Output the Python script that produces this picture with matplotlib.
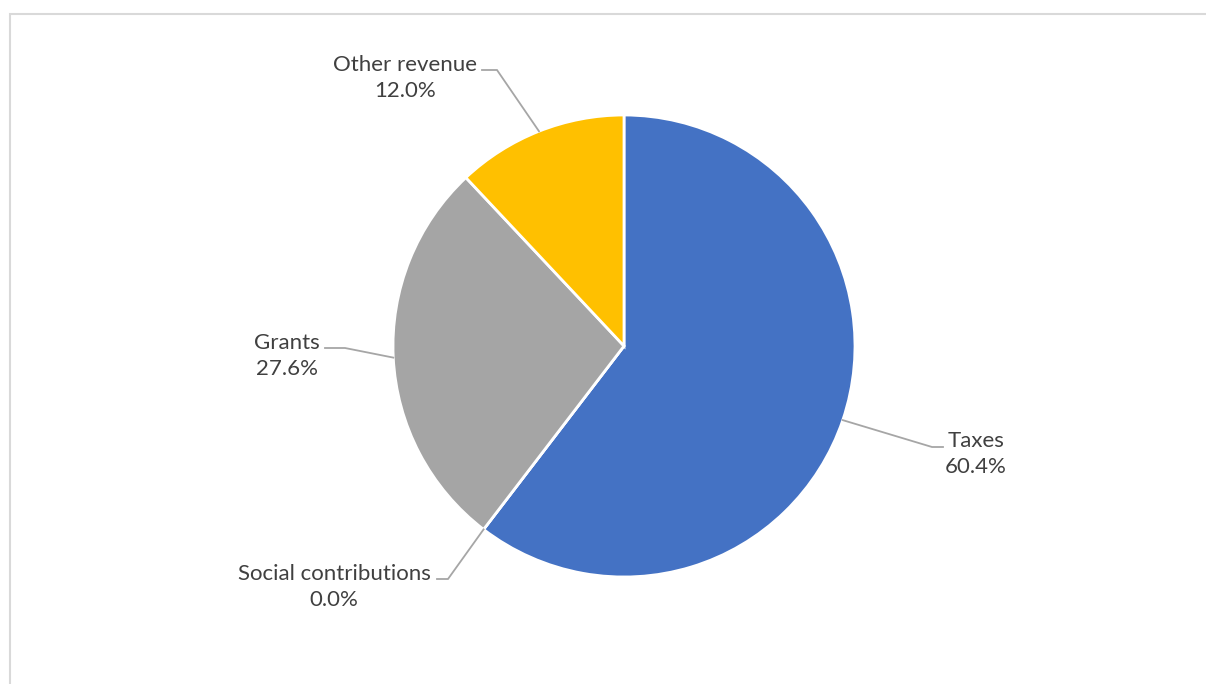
import numpy as np
import matplotlib.pyplot as plt
from matplotlib.patches import Rectangle

# revenue shares (%), drawn clockwise from 12 o'clock
categories = ["Taxes", "Social contributions", "Grants", "Other revenue"]
shares = [60.4, 0.0, 27.6, 12.0]
colors = ["#4472C4", "#ED7D31", "#A5A5A5", "#FFC000"]

# label layout in pixel space (y measured from the top of the image)
label_pos = {
    "Taxes": (976, 454),
    "Social contributions": (334, 587),
    "Grants": (287, 356),
    "Other revenue": (405, 78),
}
# elbow of each leader line and the end of its short horizontal run
elbows = {
    "Taxes": ((932, 447), (943, 447)),
    "Social contributions": ((448, 579), (437, 579)),
    "Grants": ((345, 348), (325, 348)),
    "Other revenue": ((497, 70), (482, 70)),
}

W, H = 1206, 684
cx, cy, r = 624, 346, 231

plt.rcParams["font.family"] = ["Lato", "DejaVu Sans"]

fig = plt.figure(figsize=(W / 100, H / 100), dpi=100)
ax = fig.add_axes([0, 0, 1, 1])

wedges, _ = ax.pie(
    shares,
    colors=colors,
    startangle=90,
    counterclock=False,
    center=(cx, H - cy),
    radius=r,
    wedgeprops=dict(edgecolor="white", linewidth=2),
)
ax.set_xlim(0, W)
ax.set_ylim(0, H)
ax.set_aspect("equal")
ax.axis("off")

# chart frame
fig.patches.append(Rectangle((9.5, -20), W + 20, H - 13.5 + 20, transform=None,
                             fill=False, edgecolor="#D9D9D9", linewidth=1.5))

for w, name, val in zip(wedges, categories, shares):
    mid = np.deg2rad((w.theta1 + w.theta2) / 2)
    ex, ey = cx + r * np.cos(mid), H - cy + r * np.sin(mid)
    (bx, by), (hx, hy) = elbows[name]
    ax.plot([ex, bx, hx], [ey, H - by, H - hy], color="#A6A6A6", lw=1.3,
            solid_joinstyle="miter")
    lx, ly = label_pos[name]
    ax.text(lx, H - ly, f"{name}\n{val:.1f}%", ha="center", va="center",
            multialignment="center", fontsize=16, color="#404040",
            linespacing=1.42)

fig.savefig("out.png", dpi=100)
